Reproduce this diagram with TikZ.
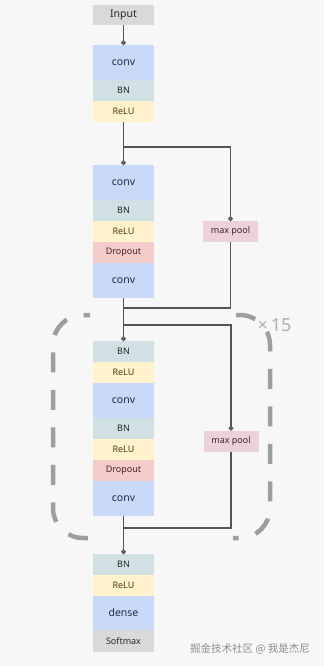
\documentclass[tikz,border=0pt]{standalone}
\usepackage{fontspec}
\setmainfont{Noto Sans}
\newfontfamily\cjk{Noto Sans CJK SC}
\usetikzlibrary{positioning,arrows.meta}

\definecolor{bgc}{HTML}{F7F7F7}
\definecolor{convc}{HTML}{C9DAF8}
\definecolor{bnc}{HTML}{D0E0E3}
\definecolor{reluc}{HTML}{FFF2CC}
\definecolor{dropc}{HTML}{F4CCCC}
\definecolor{poolc}{HTML}{EAD1DC}
\definecolor{greyc}{HTML}{D9D9D9}
\definecolor{wirec}{HTML}{555555}
\definecolor{loopc}{HTML}{9E9E9E}
\definecolor{convtxt}{HTML}{1C2A4D}
\definecolor{relutxt}{HTML}{4D3B10}
\definecolor{droptxt}{HTML}{4A2020}

\begin{document}
\begin{tikzpicture}[
    x=1pt, y=-1pt,
    netlayer/.style={rectangle, minimum width=61pt, inner sep=0pt, outer sep=0pt, font=\fontsize{9}{10}\selectfont, text=black!85},
    convbox/.style={netlayer, fill=convc, minimum height=35pt, font=\fontsize{10.5}{12}\selectfont, text=convtxt},
    bnbox/.style={netlayer, fill=bnc, minimum height=21pt},
    relubox/.style={netlayer, fill=reluc, minimum height=21pt, text=relutxt},
    dropbox/.style={netlayer, fill=dropc, minimum height=21pt, text=droptxt},
    greybox/.style={netlayer, fill=greyc, minimum height=21pt},
    poolbox/.style={netlayer, fill=poolc, minimum width=55pt, minimum height=21pt, text=droptxt},
    wire/.style={draw=wirec, line width=1.3pt},
    link/.style={wire, -{Circle[open, length=4.5pt, width=4.5pt]}},
    bracket/.style={draw=loopc, line width=4.5pt, dash pattern=on 20pt off 17.5pt, rounded corners=30pt}
]

% Background and frame
\fill[bgc] (0,0) rectangle (324,666);
\useasboundingbox (0,0) rectangle (324,666);

% Input
\node[greybox, minimum height=20pt, font=\fontsize{10.5}{12}\selectfont] (input) at (123.5,15) {Input};

% Block A
\node[convbox, anchor=north] (convA) at (123.5,45) {conv};
\node[bnbox, below=0pt of convA] (bnA) {BN};
\node[relubox, below=0pt of bnA] (reluA) {ReLU};

% Block B
\node[convbox, anchor=north] (convB) at (123.5,165) {conv};
\node[bnbox, below=0pt of convB] (bnB) {BN};
\node[relubox, below=0pt of bnB] (reluB) {ReLU};
\node[dropbox, below=0pt of reluB] (dropB) {Dropout};
\node[convbox, below=0pt of dropB] (convBB) {conv};
\node[poolbox] (poolA) at (230.5,231.5) {max pool};

% Block C (repeated)
\node[bnbox, anchor=north] (bnC) at (123.5,341) {BN};
\node[relubox, below=0pt of bnC] (reluC) {ReLU};
\node[convbox, below=0pt of reluC] (convC) {conv};
\node[bnbox, below=0pt of convC] (bnCC) {BN};
\node[relubox, below=0pt of bnCC] (reluCC) {ReLU};
\node[dropbox, below=0pt of reluCC] (dropC) {Dropout};
\node[convbox, below=0pt of dropC] (convCC) {conv};
\node[poolbox] (poolB) at (231,441) {max pool};

% Output block
\node[bnbox, anchor=north] (bnD) at (123.5,554) {BN};
\node[relubox, below=0pt of bnD] (reluD) {ReLU};
\node[convbox, below=0pt of reluD, minimum height=34pt] (dense) {dense};
\node[greybox, below=0pt of dense, minimum height=22pt] (softmax) {Softmax};

% Split and merge points
\coordinate (splitA) at (123.5,147);
\coordinate (addA) at (123.5,308);
\coordinate (splitB) at (123.5,325);
\coordinate (addB) at (123.5,528);

% Connectors
\draw[link] (input.south) -- (convA.north);
\draw[link] (reluA.south) -- (convB.north);
\draw[link] (splitA) -| (poolA.north);
\draw[wire] (poolA.south) |- (addA);
\draw[link] (convBB.south) -- (bnC.north);
\draw[link] (splitB) -| (poolB.north);
\draw[wire] (poolB.south) |- (addB);
\draw[link] (convCC.south) -- (bnD.north);

% Repeat brackets
\draw[bracket, dash phase=13.5pt] (90,315) -| (53,538) -- (90,538);
\draw[bracket, dash phase=34.5pt] (233,315) -| (270,538) -- (233,538);
\node[text=loopc!80, font=\fontsize{18}{20}\selectfont] (times) at (274.5,325) {×\,15};

% Watermark
\node[text=black!45, font=\cjk\fontsize{10.5}{12}\selectfont] (mark) at (250,649) {掘金技术社区 @ 我是杰尼};

\end{tikzpicture}
\end{document}
